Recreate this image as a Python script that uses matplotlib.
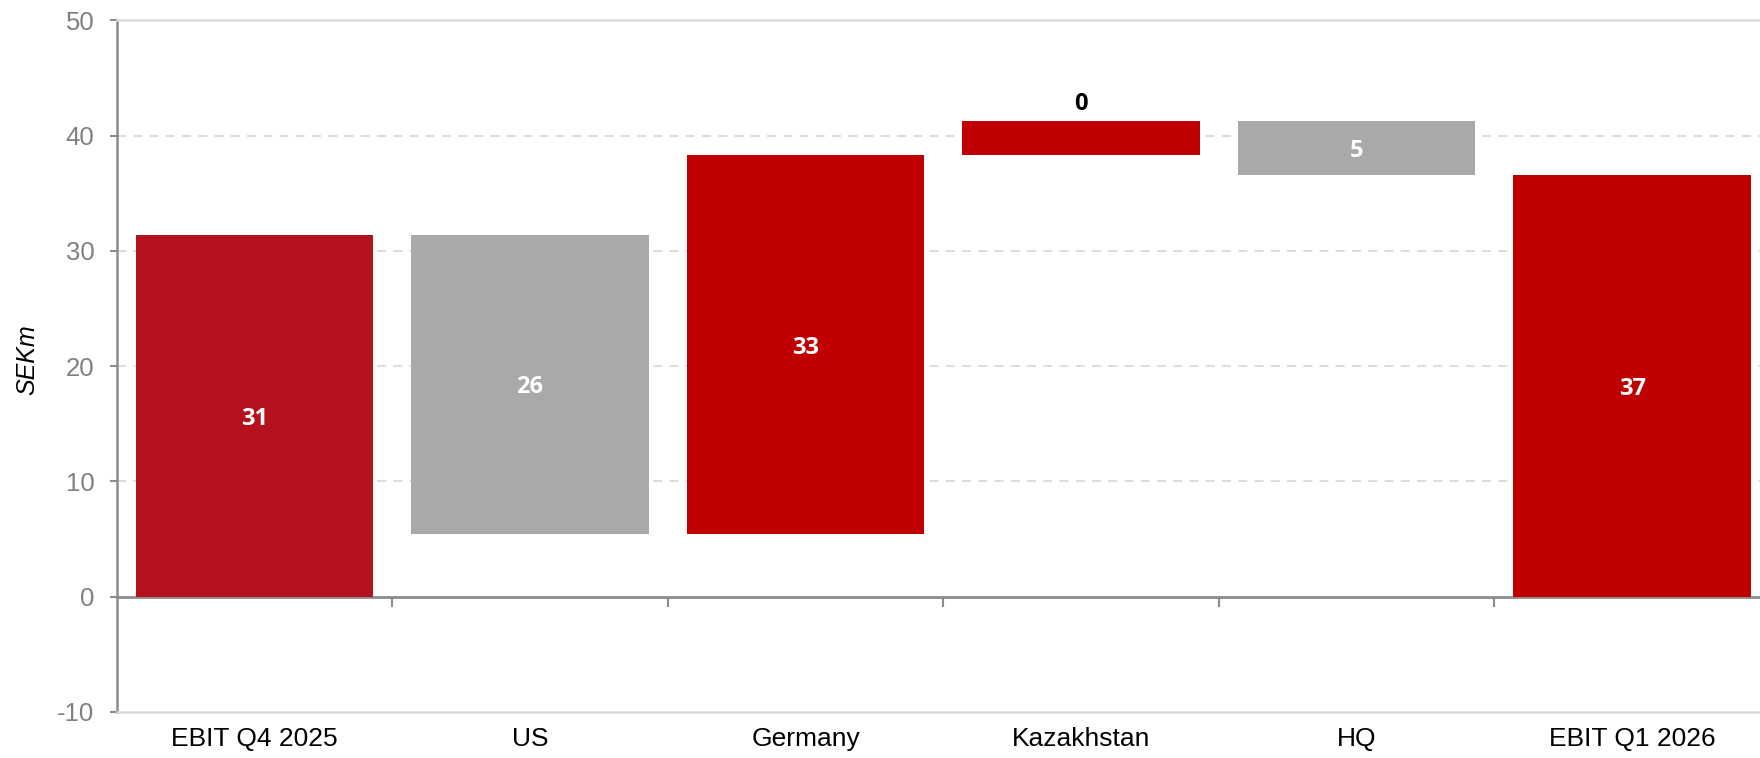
import matplotlib
matplotlib.use("Agg")
import matplotlib.pyplot as plt
import numpy as np

categories = ["EBIT Q4 2025", "US", "Germany", "Kazakhstan", "HQ", "EBIT Q1 2026"]
values = [31.4, -26.0, 32.9, 3.0, -4.7, 36.6]
kinds = ["total", "delta", "delta", "delta", "delta", "total"]
value_labels = ["31", "26", "33", "0", "5", "37"]
label_place = ["in", "in", "in", "above", "in", "in"]
yticks = [-10, 0, 10, 20, 30, 40, 50]

# waterfall geometry from the values
bottoms, heights = [], []
running = 0.0
for v, k in zip(values, kinds):
    if k == "total":
        bottoms.append(0.0)
        heights.append(v)
        running = v
    else:
        bottoms.append(running if v >= 0 else running + v)
        heights.append(abs(v))
        running += v

colors = []
for i, (v, k) in enumerate(zip(values, kinds)):
    if k == "total":
        colors.append("#B5121E" if i == 0 else "#C00000")
    else:
        colors.append("#C00000" if v >= 0 else "#A9A9A9")

fig = plt.figure(figsize=(17.6, 7.58), dpi=100)
ax = fig.add_axes([0.0663, 0.0607, 0.9394, 0.9123])

x = np.arange(len(categories))
bars = ax.bar(x, heights, bottom=bottoms, width=0.862, color=colors,
              edgecolor="none", zorder=3)

ax.set_xlim(-0.5, len(categories) - 0.5)
ax.set_ylim(-10, 50)
ax.set_yticks(yticks)
ax.set_yticklabels([str(t) for t in yticks])

ax.set_xticks(x)
ax.set_xticklabels(categories, fontsize=19, color="black",
                   family=["Liberation Sans", "DejaVu Sans"])
ax.tick_params(axis="x", length=0, pad=11)
ax.tick_params(axis="y", length=5, width=1.5, color="#8C8C8C",
               labelcolor="#808080", labelsize=18.5, pad=11)
for lab in ax.get_yticklabels():
    lab.set_family(["Liberation Sans", "DejaVu Sans"])

ax.yaxis.grid(True, linestyle=(0, (5, 4)), color="#D9D9D9", linewidth=1.3, zorder=0)
ax.set_axisbelow(True)
for t, gl in zip(yticks, ax.get_ygridlines()):
    if t in (yticks[0], 0, yticks[-1]):
        gl.set_visible(False)

ax.spines["left"].set_color("#8C8C8C")
ax.spines["left"].set_linewidth(1.8)
ax.spines["right"].set_visible(False)
ax.spines["top"].set_color("#D9D9D9")
ax.spines["top"].set_linewidth(1.8)
ax.spines["bottom"].set_color("#D9D9D9")
ax.spines["bottom"].set_linewidth(1.8)

# zero line with category-boundary ticks
sec = ax.secondary_xaxis(0, transform=ax.transData)
sec.set_xticks(np.arange(len(categories) - 1) + 0.5)
sec.set_xticklabels([])
sec.tick_params(axis="x", direction="out", length=7, width=1.5, color="#8C8C8C")
sec.spines["bottom"].set_color("#8C8C8C")
sec.spines["bottom"].set_linewidth(2.0)

ax.set_ylabel("SEKm", fontsize=18, style="italic", color="black",
              family=["Liberation Sans", "DejaVu Sans"], va="center")
ax.yaxis.set_label_coords(-0.054, 0.51)

for xi, b, h, lab, place in zip(x, bottoms, heights, value_labels, label_place):
    if place == "in":
        ax.annotate(lab, (xi, b + h / 2), xytext=(0, -2), textcoords="offset points",
                    ha="center", va="center", color="white",
                    fontsize=17, fontweight="bold",
                    family=["Open Sans", "DejaVu Sans"], zorder=4)
    else:
        ax.annotate(lab, (xi, b + h), xytext=(0, 8), textcoords="offset points",
                    ha="center", va="baseline", color="black",
                    fontsize=17, fontweight="bold",
                    family=["Open Sans", "DejaVu Sans"], zorder=4)

fig.savefig("out.png", dpi=100)
